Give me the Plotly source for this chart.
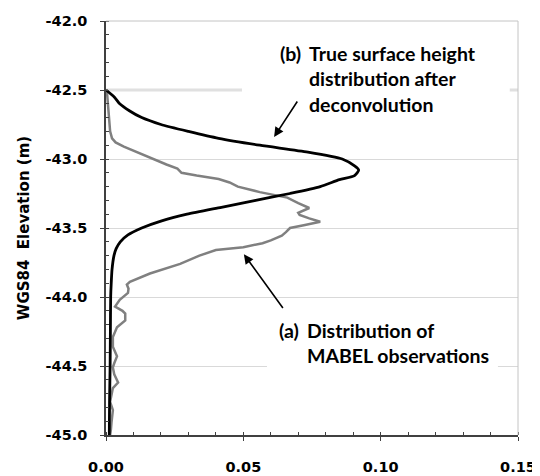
import plotly.graph_objects as go

# (b) True surface height distribution after deconvolution
true_elev = [-42.50, -42.55, -42.60, -42.65, -42.70, -42.75, -42.80, -42.85, -42.90, -42.95,
             -43.00, -43.05, -43.08, -43.12, -43.15, -43.20, -43.25, -43.30, -43.35, -43.40,
             -43.45, -43.50, -43.55, -43.60, -43.65, -43.70, -43.80, -43.90, -44.00, -44.25,
             -44.50, -44.75, -45.00]
true_freq = [0.0000, 0.0030, 0.0050, 0.0085, 0.0130, 0.0200, 0.0300, 0.0410, 0.0560, 0.0735,
             0.0860, 0.0905, 0.0920, 0.0905, 0.0850, 0.0780, 0.0670, 0.0545, 0.0420, 0.0295,
             0.0200, 0.0130, 0.0080, 0.0052, 0.0037, 0.0029, 0.0022, 0.0019, 0.0017, 0.0016,
             0.0015, 0.0013, 0.0012]

# (a) Distribution of MABEL observations
obs_elev = [-42.50, -42.55, -42.60, -42.65, -42.70, -42.75, -42.80, -42.85, -42.88, -42.91,
            -42.94, -42.97, -43.00, -43.04, -43.07, -43.10, -43.12, -43.145, -43.17, -43.20,
            -43.24, -43.28, -43.32, -43.355, -43.39, -43.405, -43.43, -43.455, -43.48, -43.50,
            -43.53, -43.555, -43.59, -43.61, -43.64, -43.66, -43.70, -43.76, -43.83, -43.89,
            -43.91, -43.94, -43.97, -44.00, -44.02, -44.07, -44.10, -44.12, -44.17, -44.22,
            -44.29, -44.36, -44.43, -44.48, -44.51, -44.56, -44.62, -44.66, -44.72, -44.76,
            -44.82, -44.86, -44.91, -44.96, -45.00]
obs_freq = [0.0003, 0.0005, 0.0006, 0.0008, 0.0009, 0.0012, 0.0015, 0.0022, 0.0035, 0.0065,
            0.0100, 0.0135, 0.0170, 0.0220, 0.0260, 0.0275, 0.0330, 0.0410, 0.0450, 0.0480,
            0.0560, 0.0660, 0.0700, 0.0740, 0.0700, 0.0705, 0.0740, 0.0780, 0.0720, 0.0670,
            0.0655, 0.0640, 0.0600, 0.0570, 0.0500, 0.0400, 0.0340, 0.0270, 0.0160, 0.0087,
            0.0076, 0.0082, 0.0080, 0.0060, 0.0050, 0.0033, 0.0060, 0.0070, 0.0070, 0.0040,
            0.0025, 0.0025, 0.0040, 0.0030, 0.0025, 0.0030, 0.0044, 0.0025, 0.0020, 0.0015,
            0.0025, 0.0022, 0.0020, 0.0018, 0.0015]

y_ticks = [-42.0, -42.5, -43.0, -43.5, -44.0, -44.5, -45.0]
x_ticks = [0.00, 0.05, 0.10, 0.15]

label_b = ["(b)", "True surface height<br>distribution after<br>deconvolution"]
label_a = ["(a)", "Distribution of<br>MABEL observations"]

tick_font = dict(family="DejaVu Sans", size=14.5, color="#000000", weight="bold")
ann_font = dict(family="Lato", size=19.5, color="#000000")

fig = go.Figure()
fig.add_trace(go.Scatter(x=obs_freq, y=obs_elev, mode="lines",
                         line=dict(color="#808080", width=2.5), showlegend=False))
fig.add_trace(go.Scatter(x=true_freq, y=true_elev, mode="lines",
                         line=dict(color="#000000", width=2.8, shape="spline", smoothing=0.6),
                         showlegend=False))

# thick light gridline at -42.5 and white text boxes hiding gridlines
fig.add_shape(type="line", x0=0, x1=0.15, y0=-42.5, y1=-42.5, layer="between",
              line=dict(color="#e0e0e0", width=3))
fig.add_shape(type="rect", x0=0.0495, x1=0.147, y0=-42.30, y1=-42.70, layer="between",
              fillcolor="white", line=dict(width=0))
fig.add_shape(type="rect", x0=0.0586, x1=0.1427, y0=-44.20, y1=-44.60, layer="between",
              fillcolor="white", line=dict(width=0))
# light top/right frame
fig.add_shape(type="line", xref="paper", yref="paper", x0=0, x1=1, y0=1, y1=1,
              line=dict(color="#c4c4c4", width=1))
fig.add_shape(type="line", xref="paper", yref="paper", x0=1, x1=1, y0=0, y1=1,
              line=dict(color="#c4c4c4", width=1))

# text annotations
fig.add_annotation(x=0.0626, y=-42.232, xref="x", yref="y", text="<b>%s</b>" % label_b[0],
                   showarrow=False, xanchor="left", yanchor="middle", font=ann_font)
fig.add_annotation(x=0.0733, y=-42.417, xref="x", yref="y", text="<b>%s</b>" % label_b[1],
                   showarrow=False, xanchor="left", yanchor="middle", align="left", font=ann_font)
fig.add_annotation(x=0.0622, y=-44.246, xref="x", yref="y", text="<b>%s</b>" % label_a[0],
                   showarrow=False, xanchor="left", yanchor="middle", font=ann_font)
fig.add_annotation(x=0.0726, y=-44.333, xref="x", yref="y", text="<b>%s</b>" % label_a[1],
                   showarrow=False, xanchor="left", yanchor="middle", align="left", font=ann_font)

# arrows
fig.add_annotation(x=0.0612, y=-42.84, ax=0.0700, ay=-42.572, xref="x", yref="y",
                   axref="x", ayref="y", text="", showarrow=True, arrowhead=2,
                   arrowsize=1.2, arrowwidth=1.6, arrowcolor="#000000")
fig.add_annotation(x=0.0502, y=-43.69, ax=0.0648, ay=-44.09, xref="x", yref="y",
                   axref="x", ayref="y", text="", showarrow=True, arrowhead=2,
                   arrowsize=1.2, arrowwidth=1.6, arrowcolor="#000000")

fig.update_xaxes(range=[0, 0.15], tickvals=x_ticks, ticktext=["%.2f" % v for v in x_ticks],
                 showgrid=False, zeroline=False, showline=True, linecolor="#404040", linewidth=1.5,
                 ticks="outside", ticklen=4, tickcolor="#404040", tickwidth=1.2,
                 ticklabelstandoff=14, tickfont=tick_font, automargin=False,
                 minor=dict(dtick=0.01, ticks="inside", ticklen=3, tickcolor="#404040",
                            showgrid=False))
fig.update_yaxes(range=[-45, -42], tickvals=y_ticks, ticktext=["%.1f" % v for v in y_ticks],
                 showgrid=True, gridcolor="#d9d9d9", gridwidth=1, zeroline=False,
                 showline=True, linecolor="#404040", linewidth=1.5,
                 ticks="outside", ticklen=4, tickcolor="#404040", tickwidth=1.2,
                 ticklabelstandoff=10, tickfont=tick_font, automargin=False,
                 minor=dict(dtick=0.1, ticks="inside", ticklen=3, tickcolor="#404040",
                            showgrid=False),
                 title=dict(text="<b>WGS84  Elevation (m)</b>", standoff=12,
                            font=dict(family="DejaVu Sans", size=15, color="#000000")))

# page body adds an 8px offset; figure is shifted so the plot area lands where the reference has it
fig.update_layout(template="none", width=532, height=468,
                  margin=dict(l=98, r=22, t=13, b=41, autoexpand=False),
                  plot_bgcolor="white", paper_bgcolor="white",
                  font=dict(family="DejaVu Sans", color="#000000"))

fig.write_html("out.html")
